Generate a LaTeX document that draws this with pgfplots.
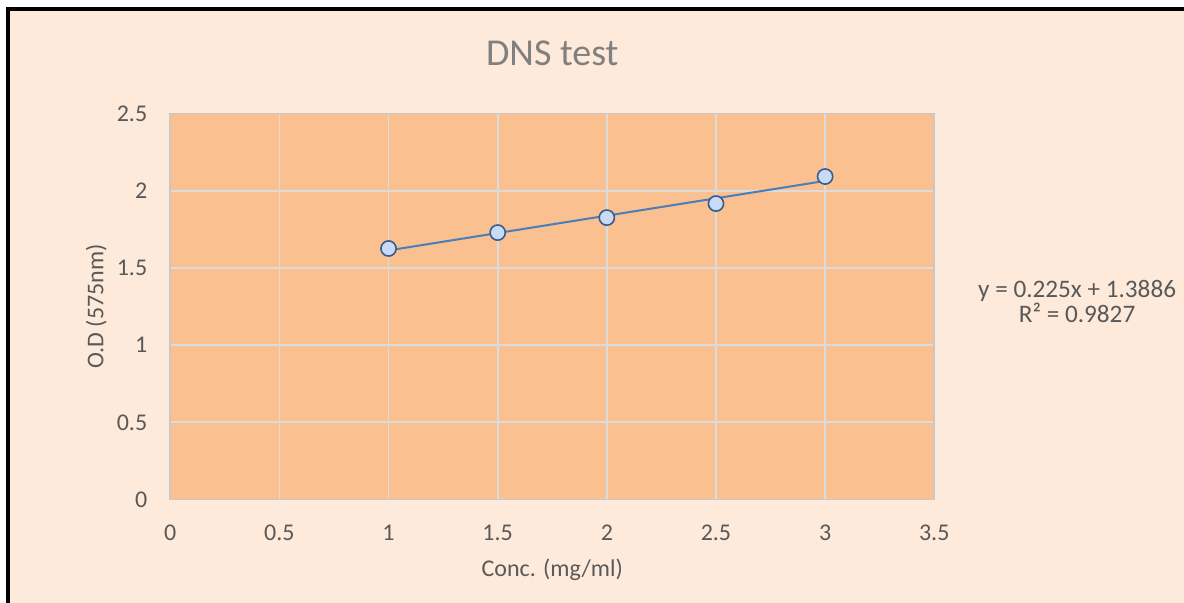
\documentclass[border=0pt]{standalone}
\usepackage{fontspec}
\setmainfont{Carlito}
\usepackage{pgfplots}
\pgfplotsset{compat=1.18}
\definecolor{bgpeach}{RGB}{253,234,218}
\definecolor{plotorange}{RGB}{250,192,144}
\definecolor{gridgray}{RGB}{220,220,220}
\definecolor{boxgray}{RGB}{200,200,200}
\definecolor{txtgray}{RGB}{89,89,89}
\definecolor{titlegray}{RGB}{128,128,128}
\definecolor{lineblue}{RGB}{74,126,187}
\definecolor{markfill}{RGB}{200,218,245}
\definecolor{markedge}{RGB}{56,93,138}
\begin{document}
\begin{tikzpicture}[x=1pt,y=1pt]
\useasboundingbox (0,0) rectangle (592,301.5);
\fill[white] (0,0) rectangle (592,301.5);
\fill[bgpeach] (4,0) rectangle (592,297);
\draw[black, line width=1.8pt] (4,0) -- (4,297) -- (592.9,297);
\begin{axis}[
  at={(78,67)}, anchor=south west,
  scale only axis, width=382pt, height=193pt,
  xmin=0, xmax=3.5, ymin=0, ymax=2.5,
  xtick={0,0.5,1,1.5,2,2.5,3,3.5},
  ytick={0,0.5,1,1.5,2,2.5},
  /pgf/number format/assume math mode=true,
  major tick length=0pt,
  axis background/.style={fill=plotorange},
  axis line style={boxgray, line width=0.8pt},
  grid=major,
  major grid style={gridgray, line width=0.9pt},
  tick label style={font=\fontsize{12}{14}\selectfont, text=txtgray},
  yticklabel style={xshift=-8pt},
  xticklabel style={yshift=-9pt},
  label style={font=\fontsize{12}{14}\selectfont, text=txtgray},
  xlabel={Conc. (mg/ml)},
  ylabel={O.D (575nm)},
  xlabel style={at={(axis description cs:0.5,-0.1813)}, anchor=center},
  ylabel style={at={(axis description cs:-0.0969,0.5)}, anchor=center},
  title={DNS test},
  title style={at={(axis description cs:0.5,1.124)}, anchor=center, font=\fontsize{19}{22}\selectfont, text=titlegray},
  clip=false,
]
\addplot[only marks, mark=*, mark size=3.8pt, mark options={fill=markfill, draw=markedge, line width=0.8pt}]
  coordinates {(1,1.626) (1.5,1.729) (2,1.826) (2.5,1.917) (3,2.092)};
\addplot[lineblue, line width=1pt] coordinates {(1,1.6136) (3,2.0636)};
\node[align=center, text=txtgray, font=\fontsize{12.6}{12.6}\selectfont] at (rel axis cs:1.187,0.514) {y = 0.225x + 1.3886\\R² = 0.9827};
\end{axis}
\end{tikzpicture}
\end{document}
